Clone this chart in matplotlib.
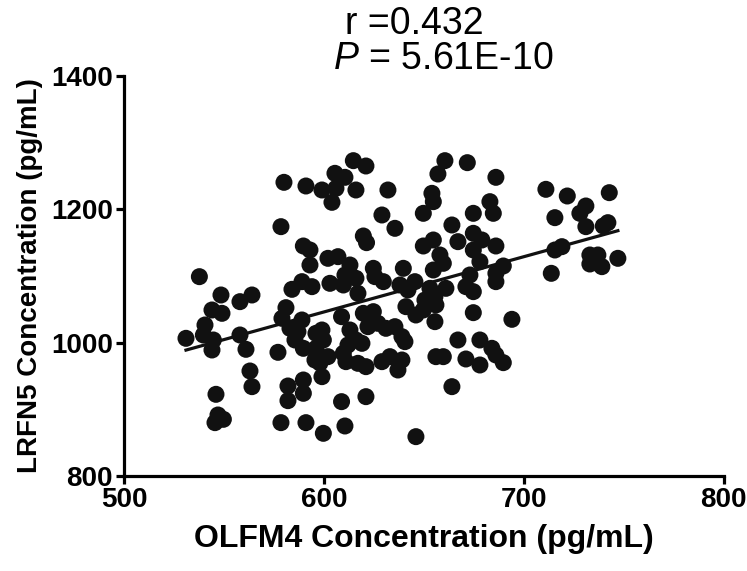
import numpy as np
import matplotlib
matplotlib.use("Agg")
from matplotlib import pyplot as plt

plt.rcParams['font.family'] = ['Liberation Sans', 'DejaVu Sans']
plt.rcParams['mathtext.fontset'] = 'custom'
plt.rcParams['mathtext.it'] = 'Liberation Sans:italic'
plt.rcParams['mathtext.rm'] = 'Liberation Sans'

# OLFM4 (x) and LRFN5 (y) concentrations, pg/mL
olfm4 = [
    580, 591, 578.5, 589.7, 593, 593, 537.7, 548.5, 558, 564,
    544, 549, 584, 589, 594, 581, 579, 589, 583, 587,
    596, 540.5, 539.7, 531, 544.7, 544, 558, 561, 577, 585.5,
    589.7, 596, 563, 564, 546, 547, 549.7, 545.5, 582, 589.7,
    589.7, 582, 578.5, 591, 598,
    614.7, 621, 605.5, 610.5, 599, 606, 604, 616, 632, 660.5,
    657, 671.7, 654, 654.7, 649.7, 629, 635.5, 664, 667, 619.7,
    621.3, 649.7, 654.7, 658, 659.7, 654.7,
    602, 607, 613, 610.5, 603, 616, 609.7, 617, 624.7, 625.5,
    629.7, 639.7, 638, 645.5, 642, 653, 661, 655.5, 650.5, 656,
    641, 646, 649.7, 655.5,
    608.8, 619.7, 624.7, 599, 599.7, 613, 616, 622, 627, 631,
    635.5, 639, 640.5, 612, 619, 609.7, 602, 595.5, 599, 611,
    621, 617, 629, 633, 639, 637, 656, 659.7, 667, 671,
    664, 608.8, 621, 610.5, 599.7, 646,
    686, 711, 721.7, 742.7, 683, 684.7, 674.7, 731, 728, 731,
    715.5, 739.7, 742, 674.7, 679, 674.7, 686, 678, 689.7, 686,
    686, 673, 671, 674.7, 715.5, 719, 713.7, 733, 737, 733,
    739, 747, 674.7, 694, 678, 684, 686, 689.7, 678,
]
lrfn5 = [
    1240.5, 1235, 1174, 1145, 1139, 1116.5, 1099, 1071.5, 1061.5, 1071.5,
    1049, 1044, 1080, 1091.5, 1084, 1052.5, 1036.5, 1034, 1021.5, 1016.5,
    1014, 1026.5, 1011.5, 1006.5, 1004, 989, 1011.5, 990, 985.5, 1004,
    991.5, 991.5, 957.5, 934, 922.5, 891.5, 885, 880, 935, 944,
    924, 913, 880, 880, 969.5,
    1273, 1265, 1254, 1248, 1229, 1231.5, 1210.5, 1229, 1229, 1273,
    1253, 1270, 1224, 1211.5, 1194, 1191.5, 1171.5, 1176.5, 1151.5, 1160,
    1150, 1145, 1154, 1131.5, 1119, 1109,
    1126.5, 1129, 1116.5, 1101.5, 1089, 1096.5, 1086.5, 1074, 1111.5, 1099,
    1091.5, 1111.5, 1086.5, 1091.5, 1079, 1081.5, 1081.5, 1069, 1064, 1056.5,
    1054, 1041.5, 1049, 1031.5,
    1039, 1044, 1046.5, 1019, 1004, 1019, 1004, 1024, 1029, 1021.5,
    1024, 1009, 1001.5, 996.5, 999, 984, 979, 974, 949, 971.5,
    964, 969, 971.5, 979, 974, 959, 979, 979, 1004, 975.5,
    934, 911.5, 919, 875, 864, 859,
    1248, 1230, 1220, 1225, 1211.5, 1194, 1194, 1205, 1194, 1174,
    1187.5, 1175, 1180, 1164, 1154, 1139, 1145, 1121.5, 1115, 1104,
    1091.5, 1101.5, 1084, 1076.5, 1139, 1144, 1104, 1131.5, 1131.5, 1118,
    1114, 1126.5, 1045, 1035, 1004, 991.5, 981.5, 970, 966.5,
]
x_ticks = [500, 600, 700, 800]
y_ticks = [800, 1000, 1200, 1400]

x = np.array(olfm4)
y = np.array(lrfn5)
slope, intercept = np.polyfit(x, y, 1)
xfit = np.array([x.min(), x.max()])

fig = plt.figure(figsize=(7.47, 5.71), dpi=100)
ax = fig.add_axes([0.166, 0.1664, 0.803, 0.7005])

ax.scatter(x, y, s=150, color='#111111', edgecolors='none', zorder=3)
ax.plot(xfit, slope * xfit + intercept, color='#111111', lw=2.3, zorder=4)

ax.set_xlim(500, 800)
ax.set_ylim(800, 1400)
ax.set_xticks(x_ticks)
ax.set_yticks(y_ticks)
for s in ['top', 'right']:
    ax.spines[s].set_visible(False)
for s in ['left', 'bottom']:
    ax.spines[s].set_linewidth(2.3)
ax.tick_params(width=2.3, length=6, labelsize=20, pad=2)
for lab in ax.get_xticklabels() + ax.get_yticklabels():
    lab.set_fontweight('bold')

ax.set_xlabel('OLFM4 Concentration (pg/mL)', fontsize=23, fontweight='bold', labelpad=8)
ax.set_ylabel('LRFN5 Concentration (pg/mL)', fontsize=20, fontweight='bold', labelpad=6)

fig.text(0.554, 0.958, 'r =0.432', fontsize=27, ha='center', va='center')
fig.text(0.594, 0.897, r'$\it{P}$ = 5.61E-10', fontsize=27, ha='center', va='center')

fig.savefig('out.png', dpi=100)
